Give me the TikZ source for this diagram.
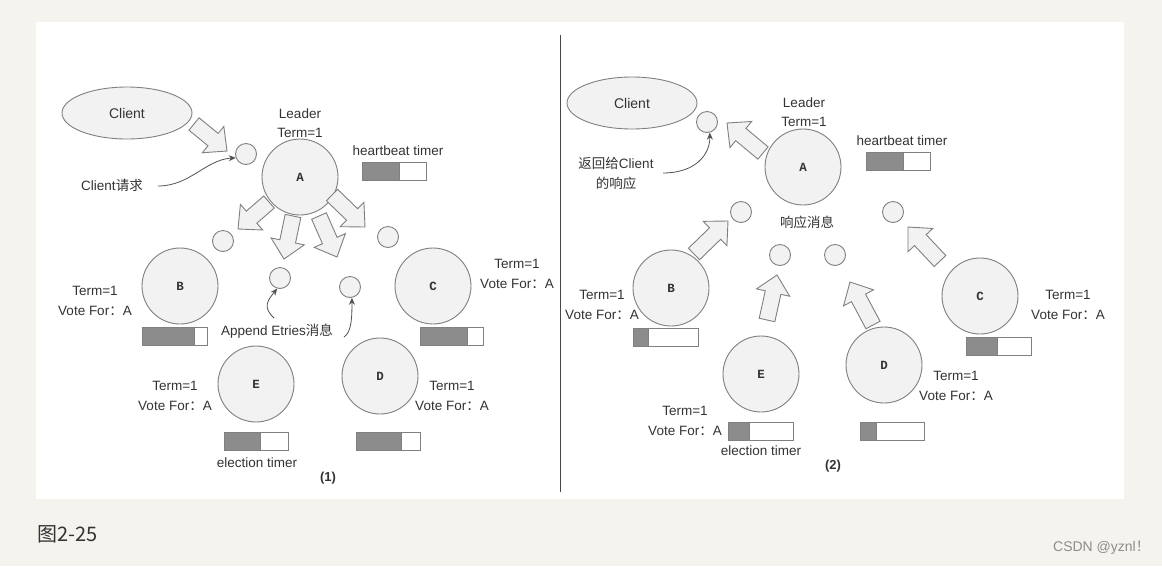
\documentclass[tikz,border=0pt]{standalone}
\usepackage{fontspec}
\setmainfont{Liberation Sans}
\newfontfamily\cjk{Noto Sans CJK SC}
\newfontfamily\monof{Liberation Mono}
\usetikzlibrary{calc,arrows.meta,shapes.geometric}
\definecolor{bg}{HTML}{F5F3EE}
\definecolor{nodefill}{HTML}{F2F2F2}
\definecolor{edgec}{HTML}{808080}
\definecolor{txt}{HTML}{333333}
\definecolor{bargray}{HTML}{8C8C8C}
\newcommand\blkarrow[2]{%
  \coordinate (T) at (#1);
  \coordinate (H) at (#2);
  \coordinate (N) at ($(H)!18pt!(T)$);
  \filldraw[arrowst] ($(T)!8pt!90:(H)$) -- ($(N)!8pt!-90:(T)$) -- ($(N)!17pt!-90:(T)$) -- (H)
     -- ($(N)!17pt!90:(T)$) -- ($(N)!8pt!90:(T)$) -- ($(T)!8pt!-90:(H)$) -- cycle;}
\newcommand\timerbar[4]{% x1, y1, xgray, x2 (height 18)
  \fill[bargray] (#1,#2) rectangle (#3,#2+18);
  \fill[white] (#3,#2) rectangle (#4,#2+18);
  \draw[edgec,line width=0.9pt] (#1,#2) rectangle (#4,#2+18);
  \draw[edgec,line width=0.6pt] (#3,#2) -- (#3,#2+18);}
\begin{document}
\begin{tikzpicture}[x=1pt,y=-1pt,
  server/.style={circle,draw=edgec,fill=nodefill,line width=0.9pt,minimum size=76pt,inner sep=0pt,
    font=\monof\bfseries\fontsize{12.5}{12.5}\selectfont,text=txt},
  msg/.style={circle,draw=edgec,fill=nodefill,line width=0.9pt,minimum size=21pt,inner sep=0pt},
  clientst/.style={ellipse,draw=edgec,fill=nodefill,line width=0.9pt,minimum width=130pt,minimum height=52pt,
    inner sep=0pt,font=\fontsize{14}{16}\selectfont,text=txt},
  lbl/.style={font=\fontsize{13.5}{19.5}\selectfont,text=txt,align=center,inner sep=0pt},
  arrowst/.style={draw=edgec,fill=nodefill,line width=0.9pt,line join=miter},
  note/.style={draw=txt!85,line width=0.8pt,-{Stealth[length=7pt,width=6pt]}},
]
\useasboundingbox (0,0) rectangle (1162,566);
\fill[bg] (0,0) rectangle (1162,566);
\fill[white] (36,22) rectangle (1124,499);
\draw[txt!90,line width=1pt] (560,35) -- (560,492);

% ================= Panel (1) =================
\node[clientst] (cl1) at (127,113) {Client};
\node[server] (A1) at (300,177) {A};
\node[server] (B1) at (180,286) {B};
\node[server] (C1) at (433,286) {C};
\node[server] (E1) at (256,384) {E};
\node[server] (D1) at (380,376) {D};
\node[msg] (m10) at (246,154) {};
\node[msg] (m11) at (223,241) {};
\node[msg] (m12) at (388,237) {};
\node[msg] (m13) at (280,278) {};
\node[msg] (m14) at (350,287) {};

\node[lbl] (ld1) at (300,123) {Leader\\Term=1};
\node[lbl] (hb1) at (398,151) {heartbeat timer};
\timerbar{362}{162}{399}{426}
\node[lbl] (tb1) at (95,301) {Term=1\\Vote For{\cjk ：}A};
\timerbar{142}{327}{194}{207}
\node[lbl] (tc1) at (517,274) {Term=1\\Vote For{\cjk ：}A};
\timerbar{420}{327}{467}{483}
\node[lbl] (te1) at (175,396) {Term=1\\Vote For{\cjk ：}A};
\timerbar{224}{432}{260}{288}
\node[lbl] (td1) at (452,396) {Term=1\\Vote For{\cjk ：}A};
\timerbar{356}{432}{401}{420}
\node[lbl] (et1) at (257,463) {election timer};
\node[lbl,font=\bfseries\fontsize{13}{16}\selectfont] (n1) at (328,478) {(1)};
\node[lbl] (cr1) at (112,185) {Client{\cjk 请求}};
\node[lbl] (ae1) at (277,331) {Append Etries{\cjk 消息}};

\blkarrow{194,124}{227,151}
\blkarrow{269,202}{238,229}
\blkarrow{293,216}{284,259}
\blkarrow{319,216}{337,257}
\blkarrow{332,195}{365,227}

\coordinate (s10) at (158,186);
\draw[note] (s10) .. controls (190,186) and (205,160) .. (m10.200);
\coordinate (s11) at (274,318);
\draw[note] (s11) .. controls (262,307) and (268,300) .. (m13.-105);
\coordinate (s12) at (344,337);
\draw[note] (s12) .. controls (352,332) and (352,315) .. (m14.-80);

% ================= Panel (2) =================
\node[clientst] (cl2) at (632,103) {Client};
\node[server] (A2) at (803,167) {A};
\node[server] (B2) at (671,288) {B};
\node[server] (C2) at (980,296) {C};
\node[server] (E2) at (761,374) {E};
\node[server] (D2) at (884,365) {D};
\node[msg] (m20) at (707,122) {};
\node[msg] (m21) at (741,212) {};
\node[msg] (m22) at (893,212) {};
\node[msg] (m23) at (780,255) {};
\node[msg] (m24) at (835,255) {};

\node[lbl] (ld2) at (804,112) {Leader\\Term=1};
\node[lbl] (hb2) at (902,141) {heartbeat timer};
\timerbar{866}{152}{903}{930}
\node[lbl] (tb2) at (602,305) {Term=1\\Vote For{\cjk ：}A};
\timerbar{633}{328}{648}{698}
\node[lbl] (tc2) at (1068,305) {Term=1\\Vote For{\cjk ：}A};
\timerbar{966}{337}{997}{1031}
\node[lbl] (te2) at (685,421) {Term=1\\Vote For{\cjk ：}A};
\timerbar{728}{422}{749}{793}
\node[lbl] (td2) at (956,386) {Term=1\\Vote For{\cjk ：}A};
\timerbar{860}{422}{876}{924}
\node[lbl] (et2) at (761,451) {election timer};
\node[lbl,font=\bfseries\fontsize{13}{16}\selectfont] (n2) at (833,466) {(2)};
\node[lbl,font=\fontsize{13.5}{20}\selectfont] (rs2) at (616,173) {{\cjk 返回给}Client\\{\cjk 的响应}};
\node[lbl,font=\cjk\fontsize{13.5}{16}\selectfont] (xy2) at (807,222) {响应消息};

\blkarrow{763,153}{727,123}
\blkarrow{694,254}{728,221}
\blkarrow{767,320}{777,275}
\blkarrow{873,325}{850,282}
\blkarrow{940,261}{908,227}

\coordinate (s20) at (663,173);
\draw[note] (s20) .. controls (695,173) and (710,155) .. (m20.-75);

% ================= Caption =================
\node[font=\cjk\fontsize{20}{22}\selectfont,text=txt,anchor=west,inner sep=0pt] (cap) at (37,534) {图2-25};
\node[font=\fontsize{14}{16}\selectfont,text=black!45,anchor=east,inner sep=0pt] (csdn) at (1150,548) {CSDN @yznl{\cjk ！}};
\end{tikzpicture}
\end{document}
